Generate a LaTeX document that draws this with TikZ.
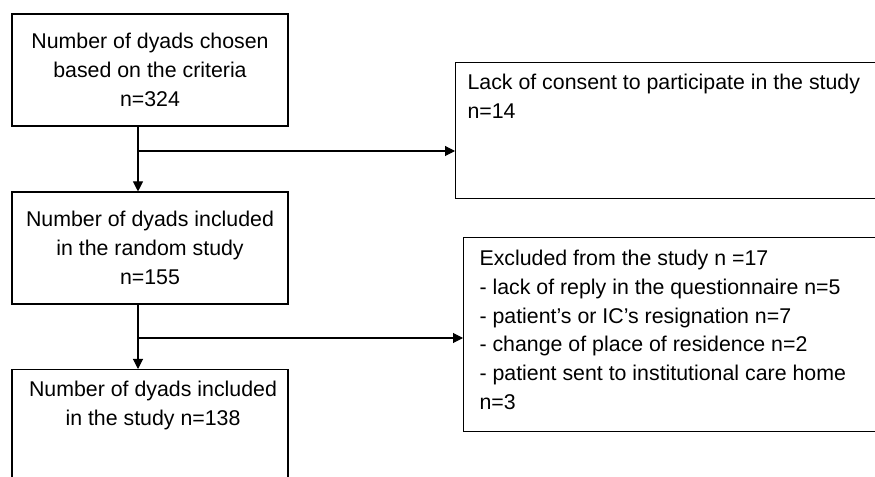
\documentclass[tikz,border=0pt]{standalone}
\usepackage{fontspec}
\setmainfont{Liberation Sans}
\usetikzlibrary{arrows.meta}

\begin{document}
\begin{tikzpicture}[x=0.75pt,y=-0.75pt,line width=0.8pt,
    >={Triangle[length=7.5pt,width=7.5pt]},
    font=\fontsize{16}{21.5}\selectfont,
    box/.style={draw,inner sep=0pt},
    txt/.style={inner sep=0pt,align=left,anchor=north west}]
  \useasboundingbox (0,0) rectangle (875,477);
  \clip (0,0) rectangle (875,477);
  % left column
  \node[box,minimum width=207pt,minimum height=84pt,align=center] (chosen) at (150,70)
    {Number of dyads chosen\\based on the criteria\\n=324};
  \node[box,minimum width=207pt,minimum height=84pt,align=center] (random) at (150,248)
    {Number of dyads included\\in the random study\\n=155};
  \node[box,minimum width=207pt,minimum height=100pt,anchor=north] (final) at (150,369) {};
  \node[txt,anchor=north,align=center] (finaltxt) at (153,381)
    {Number of dyads included\\in the study n=138};
  % right column
  \node[box,minimum width=334pt,minimum height=102pt,anchor=north west] (consent) at (455,62) {};
  \node[txt] (consenttxt) at (467,74) {Lack of consent to participate in the study\\n=14};
  \node[box,minimum width=330pt,minimum height=145.5pt,anchor=north west] (excluded) at (463,237) {};
  \node[txt] (excludedtxt) at (479,250)
    {Excluded from the study n =17\\
     - lack of reply in the questionnaire n=5\\
     - patient’s or IC’s resignation n=7\\
     - change of place of residence n=2\\
     - patient sent to institutional care home\\
     n=3};
  % connectors
  \coordinate (split1) at (138,151);
  \coordinate (split2) at (138,338);
  \draw[->] (chosen.south -| split1) -- (random.north -| split1);
  \draw[->] (split1) -- (consent.west |- split1);
  \draw[->] (random.south -| split2) -- (final.north -| split2);
  \draw[->] (split2) -- (excluded.west |- split2);
\end{tikzpicture}
\end{document}
